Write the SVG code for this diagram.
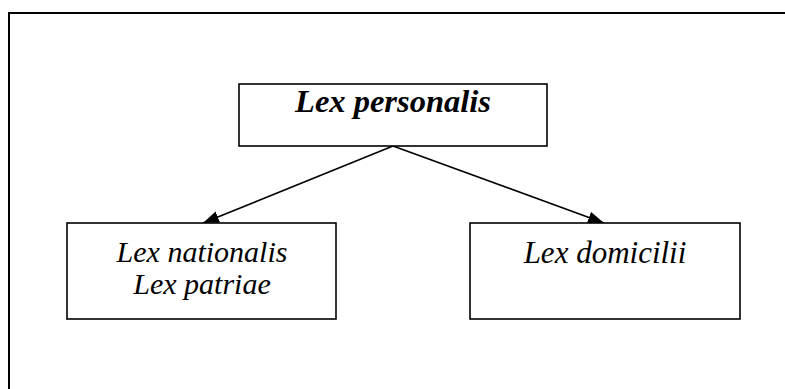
<svg xmlns="http://www.w3.org/2000/svg" width="785" height="389" viewBox="0 0 785 389">
<defs>
<style>
.box{fill:#fff;stroke:#000;stroke-width:1.6}
.t{font-family:'Liberation Serif','DejaVu Serif',serif;font-style:italic;font-size:31px;fill:#000;text-anchor:middle}
.b{font-weight:bold;font-size:32.5px}
.s{font-size:30px}
.c{stroke:#000;stroke-width:1.6;fill:none}
</style>
<marker id="ah" viewBox="0 0 16 12" refX="16" refY="6" markerWidth="16" markerHeight="12" markerUnits="userSpaceOnUse" orient="auto">
<path d="M0,0 L16,6 L0,12 Z" fill="#000"/>
</marker>
</defs>
<rect width="785" height="389" fill="#fff"/>
<rect x="9" y="13" width="800" height="400" fill="none" stroke="#000" stroke-width="2"/>
<g id="connectors">
<line class="c" x1="393" y1="146" x2="203" y2="223" marker-end="url(#ah)"/>
<line class="c" x1="393" y1="146" x2="604" y2="223" marker-end="url(#ah)"/>
</g>
<g id="n1">
<rect class="box" x="239" y="84" width="308" height="62"/>
<text class="t b" x="393" y="112">Lex personalis</text>
</g>
<g id="n2">
<rect class="box" x="67" y="223" width="269" height="96"/>
<text class="t s" x="202" y="262">Lex nationalis</text>
<text class="t s" x="202" y="294">Lex patriae</text>
</g>
<g id="n3">
<rect class="box" x="470" y="223" width="270" height="96"/>
<text class="t" x="605" y="263">Lex domicilii</text>
</g>
</svg>
